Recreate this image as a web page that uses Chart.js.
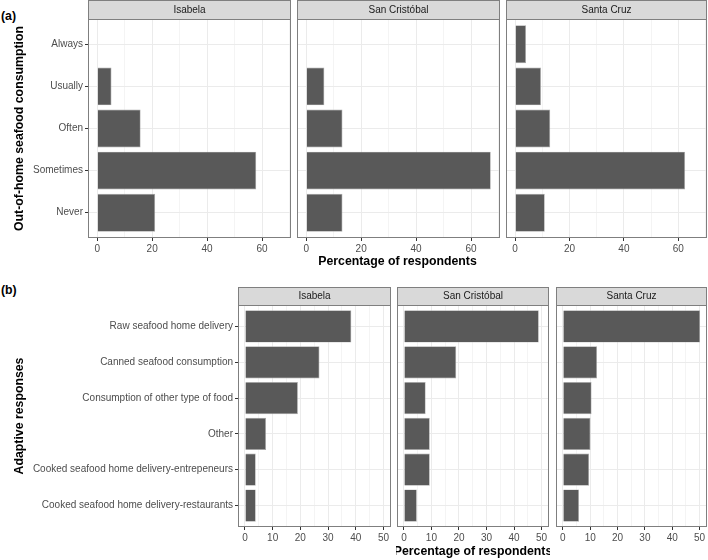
<!DOCTYPE html>
<html>
<head>
<meta charset="utf-8">
<script src="https://cdn.jsdelivr.net/npm/chart.js@4.4.0/dist/chart.umd.min.js"></script>
<style>
  body { margin: 0; background: #fff; }
  #wrap { position: relative; width: 708px; height: 560px; overflow: hidden; font-family: 'Liberation Sans', Arial, sans-serif; }
  #wrap canvas { position: absolute; }
  .tag { position: absolute; left: 1px; font-weight: bold; font-size: 12.3px; color: #000; line-height: 14px; }
</style>
</head>
<body>
<div id="wrap">
  <div class="tag" style="top:9px">(a)</div>
  <div class="tag" style="top:283px">(b)</div>
</div>
<script>
const FONT = "'Liberation Sans', Arial, sans-serif";

// (a) out-of-home seafood consumption, % of respondents
const freqLabels = ['Always', 'Usually', 'Often', 'Sometimes', 'Never'];
const freqIsabela = [0, 5.2, 15.8, 57.9, 21.1];
const freqSanCristobal = [0, 6.6, 13.2, 67.2, 13.2];
const freqSantaCruz = [4.0, 9.5, 12.9, 62.5, 10.9];
const freqTicks = [0, 10, 20, 30, 40, 50, 60, 70];

// (b) adaptive responses, % of respondents
const respLabels = [
    'Raw seafood home delivery',
    'Canned seafood consumption',
    'Consumption of other type of food',
    'Other',
    'Cooked seafood home delivery-entrepeneurs',
    'Cooked seafood home delivery-restaurants'
];
const respIsabela = [38.4, 26.9, 19.1, 7.6, 3.9, 3.9];
const respSanCristobal = [49.0, 19.0, 7.9, 9.4, 9.4, 4.7];
const respSantaCruz = [50.2, 12.5, 10.5, 10.1, 9.6, 5.9];
const respTicks = [0, 5, 10, 15, 20, 25, 30, 35, 40, 45, 50];

// strip, panel border and shared x title; also ggplot-like 0.6 discrete expansion
const facetFrame = {
    id: 'facetFrame',
    afterLayout(chart) {
        const y = chart.scales.y;
        y._startValue = -0.6;
        y._valueRange = chart.data.labels.length - 1 + 1.2;
    },
    afterDraw(chart, args, o) {
        const { ctx, chartArea: a } = chart;
        ctx.save();
        ctx.fillStyle = '#D9D9D9';
        ctx.fillRect(a.left, a.top - o.stripH, a.right - a.left, o.stripH);
        ctx.strokeStyle = '#7F7F7F';
        ctx.lineWidth = 1;
        ctx.strokeRect(a.left + 0.5, a.top - o.stripH + 0.5, a.right - a.left - 1, o.stripH);
        ctx.strokeRect(a.left + 0.5, a.top + 0.5, a.right - a.left - 1, a.bottom - a.top - 1);
        ctx.fillStyle = '#1A1A1A';
        ctx.font = '10px ' + FONT;
        ctx.textAlign = 'center';
        ctx.textBaseline = 'middle';
        ctx.fillText(o.strip, (a.left + a.right) / 2, a.top - o.stripH / 2 + 0.5);
        if (o.xTitle) {
            ctx.fillStyle = '#000';
            ctx.font = 'bold 12.3px ' + FONT;
            ctx.fillText(o.xTitle, (a.left + a.right) / 2 + (o.titleShift || 0), o.titleY);
        }
        ctx.restore();
    }
};

const wrap = document.getElementById('wrap');

function facet(p) {
    const c = document.createElement('canvas');
    c.width = p.w; c.height = p.h;
    c.style.left = p.x + 'px'; c.style.top = p.y + 'px';
    c.style.width = p.w + 'px'; c.style.height = p.h + 'px';
    wrap.appendChild(c);

    const all = p.allValues;
    const xmax = Math.max(...all);
    const pad = xmax * 0.05;

    new Chart(c, {
        type: 'bar',
        data: {
            labels: p.labels,
            datasets: [{
                data: p.values,
                backgroundColor: '#595959',
                borderColor: '#A8A8A8',
                borderWidth: 0.7,
                categoryPercentage: 1,
                barPercentage: 0.9
            }]
        },
        options: {
            indexAxis: 'y',
            responsive: false,
            animation: false,
            layout: { padding: { top: p.stripH, left: p.padL, right: p.padR, bottom: 0 } },
            plugins: {
                legend: { display: false },
                tooltip: { enabled: false },
                facetFrame: { strip: p.strip, stripH: p.stripH, xTitle: p.xTitle, titleY: p.titleY, titleShift: p.titleShift }
            },
            scales: {
                x: {
                    min: -pad,
                    max: xmax + pad,
                    afterBuildTicks: (s) => { s.ticks = p.ticks.map(v => ({ value: v })); },
                    afterFit: (s) => { s.height = p.xh; },
                    border: { display: false },
                    grid: {
                        color: (ctx) => ctx.tick && ctx.tick.value % p.major === 0 ? '#EBEBEB' : '#F4F4F4',
                        lineWidth: 1,
                        drawTicks: true,
                        tickLength: 3,
                        tickColor: (ctx) => ctx.tick && ctx.tick.value % p.major === 0 ? '#333333' : 'rgba(0,0,0,0)'
                    },
                    ticks: {
                        color: '#4D4D4D',
                        font: { size: 10, family: FONT },
                        padding: 2,
                        maxRotation: 0,
                        autoSkip: false,
                        callback: (v) => v % p.major === 0 ? v : ''
                    }
                },
                y: {
                    offset: true,
                    afterFit: (s) => { s.width = p.yw; },
                    border: { display: false },
                    grid: {
                        offset: false,
                        color: '#EBEBEB',
                        drawTicks: p.first,
                        tickLength: 3,
                        tickColor: '#333333'
                    },
                    ticks: {
                        display: p.first,
                        color: '#4D4D4D',
                        font: { size: 10, family: FONT },
                        padding: 2,
                        autoSkip: false
                    },
                    title: {
                        display: p.first,
                        text: p.yTitle,
                        color: '#000',
                        font: { size: 12.3, weight: 'bold', family: FONT },
                        padding: { top: 12.3, bottom: 0 }
                    }
                }
            }
        },
        plugins: [facetFrame]
    });
}

const allFreq = freqIsabela.concat(freqSanCristobal, freqSantaCruz);
const allResp = respIsabela.concat(respSanCristobal, respSantaCruz);

const rowA = { y: 0, h: 280, stripH: 19, xh: 42, labels: freqLabels, ticks: freqTicks, major: 20, allValues: allFreq, yTitle: 'Out-of-home seafood consumption' };
facet({ ...rowA, x: 0, w: 292, padL: 0, padR: 1, yw: 88, first: true, strip: islands(0), values: freqIsabela });

function islands(i) { return ['Isabela', 'San Cristóbal', 'Santa Cruz'][i]; }

facet({ ...rowA, x: 296, w: 205, padL: 1, padR: 1, yw: 0, first: false, strip: islands(1), values: freqSanCristobal, xTitle: 'Percentage of respondents', titleY: 262, titleShift: -1 });
facet({ ...rowA, x: 505, w: 203, padL: 1, padR: 1, yw: 0, first: false, strip: islands(2), values: freqSantaCruz });

const rowB = { y: 287, h: 273, stripH: 18, xh: 33, labels: respLabels, ticks: respTicks, major: 10, allValues: allResp, yTitle: 'Adaptive responses' };
facet({ ...rowB, x: 0, w: 392, padL: 0, padR: 1, yw: 238, first: true, strip: islands(0), values: respIsabela });
facet({ ...rowB, x: 396, w: 154, padL: 1, padR: 1, yw: 0, first: false, strip: islands(1), values: respSanCristobal, xTitle: 'Percentage of respondents', titleY: 265 });
facet({ ...rowB, x: 555, w: 153, padL: 1, padR: 1, yw: 0, first: false, strip: islands(2), values: respSantaCruz });
</script>
</body>
</html>
